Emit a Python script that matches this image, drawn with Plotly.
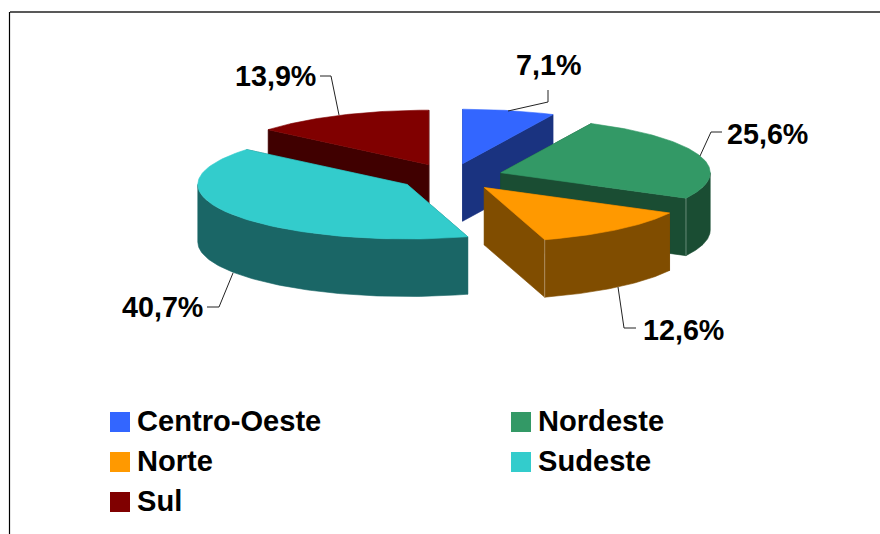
import numpy as np
import plotly.graph_objects as go

categories = ["Centro-Oeste", "Nordeste", "Norte", "Sudeste", "Sul"]
values = [7.1, 25.6, 12.6, 40.7, 13.9]
value_labels = ["7,1%", "25,6%", "12,6%", "40,7%", "13,9%"]
top_colors = ["#3366FF", "#339966", "#FF9900", "#33CCCC", "#800000"]
wall_colors = ["#1A3380", "#1A4D33", "#804D00", "#1A6666", "#400000"]
paint_order = [0, 4, 1, 3, 2]

# projection of the exploded pie on the page
CX, CY = 451.0, 177.0
RX, RY = 209.5, 54.5
EXPLODE = 0.25
DEPTH = 57.5
FONT = "Liberation Sans, Arial, sans-serif"
FS = 28.7
FS_LEGEND = 29.1

fig = go.Figure()
total = sum(values)
edges = np.concatenate([[0], np.cumsum(values)]) / total * 2 * np.pi


def project(a0, ox, oy, r=1.0):
    return ox + RX * r * np.sin(a0), oy - RY * r * np.cos(a0)


def poly(xs, ys, color):
    fig.add_trace(go.Scatter(
        x=list(xs), y=list(ys), mode="lines", fill="toself", fillcolor=color,
        line=dict(color=color, width=0.6), hoverinfo="skip", showlegend=False,
    ))


for i in paint_order:
    a0, a1 = edges[i], edges[i + 1]
    mid = (a0 + a1) / 2
    ox, oy = project(mid, CX, CY, EXPLODE)
    t = np.linspace(a0, a1, 90)
    ax, ay = project(t, ox, oy)
    wall = wall_colors[i]
    # radial cut faces
    for end in (0, -1):
        poly([ox, ax[end], ax[end], ox, ox], [oy, ay[end], ay[end] + DEPTH, oy + DEPTH, oy], wall)
    # outer curved wall: only the part that faces the viewer
    w0, w1 = max(a0, np.pi / 2), min(a1, 3 * np.pi / 2)
    if w1 > w0:
        wx, wy = project(np.linspace(w0, w1, 90), ox, oy)
        poly(np.r_[wx, wx[::-1], wx[0]], np.r_[wy, wy[::-1] + DEPTH, wy[0]], wall)
    # top face
    poly(np.r_[ox, ax, ox], np.r_[oy, ay, oy], top_colors[i])
    # thin highlight on the front vertical edge
    if np.cos(a1) < 0 and np.sin(a1) > 0:
        fig.add_trace(go.Scatter(
            x=[ax[-1], ax[-1]], y=[ay[-1], ay[-1] + DEPTH], mode="lines",
            line=dict(color="rgba(255,255,255,0.35)", width=1),
            hoverinfo="skip", showlegend=False,
        ))

# leader lines and value labels
leaders = [
    ([508, 548, 548], [111, 102, 90]),
    ([700, 711, 722], [156, 132, 132]),
    ([618, 624, 636], [287, 328, 328]),
    ([233, 219, 207], [273, 307, 307]),
    ([339, 331, 320], [115, 76, 76]),
]
label_pos = [(548.5, 65), (767.5, 134), (683, 330), (162, 307), (275.5, 76)]
for (lx, ly), (tx, ty), text in zip(leaders, label_pos, value_labels):
    fig.add_trace(go.Scatter(x=lx, y=ly, mode="lines", line=dict(color="#222222", width=1),
                             hoverinfo="skip", showlegend=False))
    fig.add_annotation(x=tx, y=ty, text=f"<b>{text}</b>", showarrow=False,
                       xanchor="center", yanchor="middle",
                       font=dict(family=FONT, size=FS, color="black"))

# legend
legend_pos = [(120, 422), (521, 422), (120, 462), (521, 462), (120, 502)]
for (lx, ly), name, color in zip(legend_pos, categories, top_colors):
    fig.add_trace(go.Scatter(x=[lx], y=[ly], mode="markers",
                             marker=dict(symbol="square", size=20, color=color, line=dict(width=0)),
                             hoverinfo="skip", showlegend=False))
    fig.add_annotation(x=lx + 15, y=ly - 1, text=f"<b>{name}</b>", showarrow=False,
                       xanchor="left", yanchor="middle",
                       font=dict(family=FONT, size=FS_LEGEND, color="black"))

# frame (top and left edges only)
fig.add_shape(type="line", x0=10, x1=880, y0=12, y1=12, line=dict(color="#222222", width=1.5))
fig.add_shape(type="line", x0=9.5, x1=9.5, y0=12, y1=534, line=dict(color="black", width=1.2))

fig.update_layout(
    width=880, height=534, margin=dict(l=0, r=0, t=0, b=0),
    paper_bgcolor="white", plot_bgcolor="white",
    xaxis=dict(range=[0, 880], visible=False, fixedrange=True),
    yaxis=dict(range=[534, 0], visible=False, fixedrange=True),
    showlegend=False,
)
fig.write_html("out.html", config=dict(displayModeBar=False),
               post_script="document.body.style.margin='0';document.body.style.overflow='hidden';")
